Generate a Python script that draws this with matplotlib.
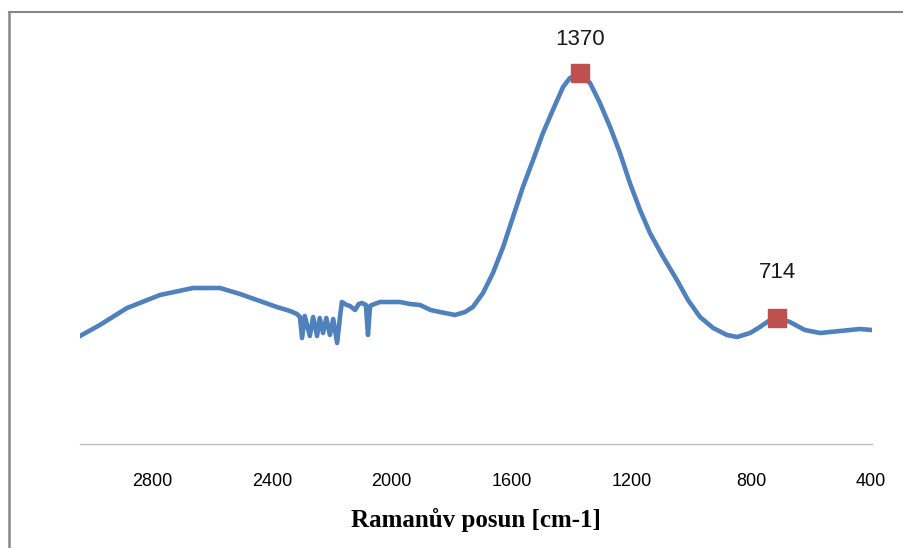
import matplotlib
matplotlib.use("Agg")
import matplotlib.pyplot as plt
from matplotlib.lines import Line2D

# Raman spectrum (wavenumber, intensity in arbitrary units)
wavenumber = [3040, 2974, 2883, 2773, 2663, 2573, 2506, 2440, 2383, 2339,
              2316, 2306, 2299, 2290, 2273, 2262, 2249, 2240, 2229, 2218,
              2206, 2195, 2182, 2172, 2166, 2150, 2139, 2122, 2110, 2099,
              2086, 2079, 2072, 2066, 2039, 2005, 1972, 1939, 1905, 1870,
              1839, 1805, 1789, 1755, 1729, 1695, 1662, 1628, 1595, 1562,
              1528, 1495, 1462, 1428, 1405, 1381, 1361, 1338, 1305, 1271,
              1238, 1205, 1171, 1138, 1094, 1048, 1011, 971, 927, 881,
              847, 804, 771, 737, 711, 671, 621, 570, 504, 437, 397]
intensity = [108, 119, 136, 149, 156, 156, 150, 143, 137, 133,
             130, 127, 106, 128, 108, 127, 108, 126, 111, 126,
             109, 125, 101, 128, 142, 139, 138, 134, 140, 141,
             139, 109, 138, 139, 142, 142, 142, 140, 139, 134,
             132, 130, 129, 132, 137, 151, 171, 197, 227, 257,
             284, 311, 334, 357, 366, 369, 367, 361, 341, 317,
             291, 261, 234, 211, 187, 164, 144, 127, 116, 109,
             107, 111, 117, 124, 126, 122, 114, 111, 113, 115, 114]

peak_pos = [1370, 714]
peak_int = [371, 126]
peak_labels = ["1370", "714"]
label_offset = [24, 33]   # points above marker

xticks = [2800, 2400, 2000, 1600, 1200, 800, 400]

fig = plt.figure(figsize=(9.04, 5.48), dpi=100)
W, H = 904, 548
ax = fig.add_axes([80 / W, (H - 444) / H, (872 - 80) / W, (444 - 20) / H])

ax.plot(wavenumber, intensity, color="#4F81BD", lw=3.3, solid_joinstyle="round")
ax.plot(peak_pos, peak_int, ls="none", marker="s", ms=13, color="#C0504D")
for x, y, lab, off in zip(peak_pos, peak_int, peak_labels, label_offset):
    ax.annotate(lab, (x, y), xytext=(0, off), textcoords="offset points",
                ha="center", va="center", fontsize=16, family="Liberation Sans",
                color="#1a1a1a")

ax.set_xlim(3040, 397)
ax.set_ylim(0, 424)
ax.set_xticks(xticks)
ax.set_xticklabels([str(t) for t in xticks], family="Liberation Sans", fontsize=13)
ax.tick_params(axis="x", length=0, pad=21)
ax.set_yticks([])
for s in ["top", "right", "left"]:
    ax.spines[s].set_visible(False)
ax.spines["bottom"].set_color("#BFBFBF")
ax.spines["bottom"].set_linewidth(1.0)

ax.set_xlabel("Ramanův posun [cm-1]", family="Liberation Serif", fontweight="bold",
              fontsize=18, labelpad=13)

# outer chart frame (only top and left edges are visible)
fig.add_artist(Line2D([9 / W, 1], [1 - 12 / H, 1 - 12 / H], transform=fig.transFigure,
                      color="#888888", lw=1.5))
fig.add_artist(Line2D([9 / W, 9 / W], [0, 1 - 12 / H], transform=fig.transFigure,
                      color="#888888", lw=1.8))

fig.savefig("out.png", dpi=100)
